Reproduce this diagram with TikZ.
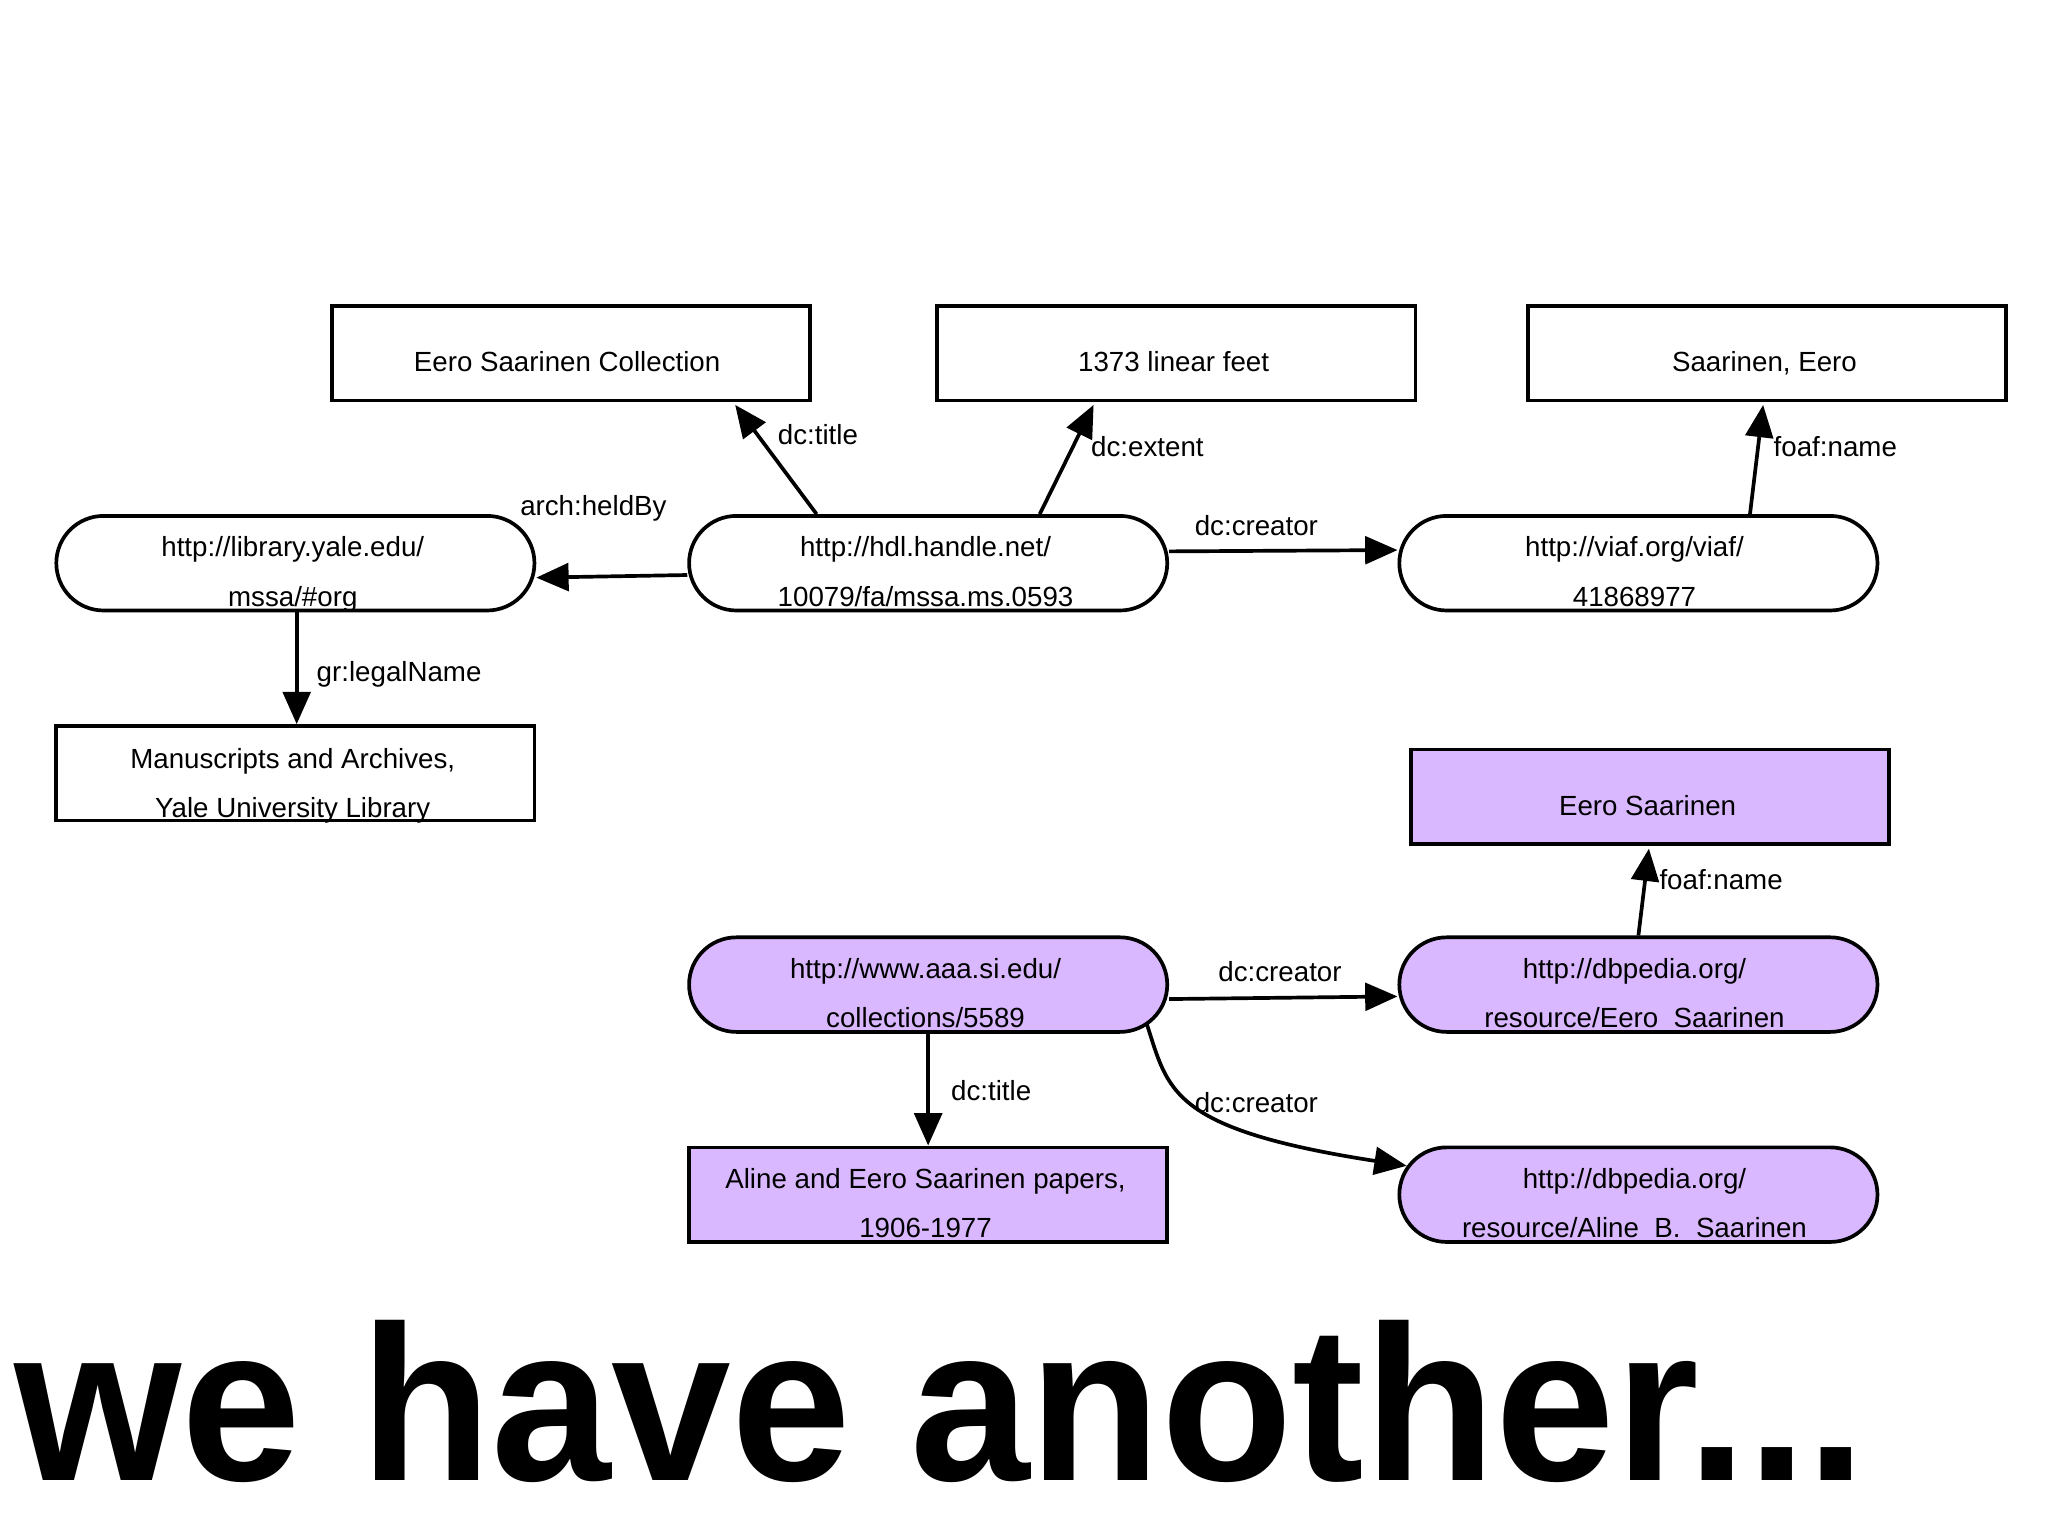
\documentclass[tikz,border=0pt]{standalone}
\usepackage{fontspec}
\setmainfont{Liberation Sans}
\usetikzlibrary{shapes.misc,arrows.meta,calc}
\definecolor{lav}{HTML}{D9B8FF}
\begin{document}
\begin{tikzpicture}[x=0.01cm,y=-0.01cm,
  box/.style={draw,line width=0.8pt,minimum width=3.64cm,minimum height=0.72cm,inner sep=0},
  pill/.style={draw,line width=0.8pt,rounded rectangle,minimum width=3.64cm,minimum height=0.72cm,inner sep=0},
  pur/.style={fill=lav},
  txt/.style={font=\fontsize{6pt}{7pt}\selectfont,inner sep=0,anchor=base},
  lab/.style={font=\fontsize{6pt}{7pt}\selectfont,inner sep=0},
  arr/.style={line width=0.8pt,-{Triangle[length=7pt,width=6pt]}}]
\useasboundingbox (0,0) rectangle (1560,1170);
\fill[white] (0,0) rectangle (1560,1170);
% shapes
\node[box] (coll) at (435,269) {};
\node[box] (ext) at (896,269) {};
\node[box] (sname) at (1346,269) {};
\node[pill] (lib) at (225,429) {};
\node[pill] (hdl) at (707,429) {};
\node[pill] (viaf) at (1248,429) {};
\node[box] (msa) at (225,589) {};
\node[box,pur] (ename) at (1257,607) {};
\node[pill,pur] (aaa) at (707,750) {};
\node[pill,pur] (dbe) at (1248,750) {};
\node[box,pur] (pap) at (707,910) {};
\node[pill,pur] (dba) at (1248,910) {};
% texts
\node[txt] (t1) at (432,283) {Eero Saarinen Collection};
\node[txt] (t2) at (894,283) {1373 linear feet};
\node[txt] (t3) at (1344,283) {Saarinen, Eero};
\node[txt] (t4a) at (223,424) {http://library.yale.edu/};
\node[txt] (t4b) at (223,462) {mssa/\#org};
\node[txt] (t5a) at (705,424) {http://hdl.handle.net/};
\node[txt] (t5b) at (705,462) {10079/fa/mssa.ms.0593};
\node[txt] (t6a) at (1245,424) {http://viaf.org/viaf/};
\node[txt] (t6b) at (1245,462) {41868977};
\node[txt] (t7a) at (223,585) {Manuscripts and Archives,};
\node[txt] (t7b) at (223,623) {Yale University Library};
\node[txt] (t8) at (1255,621) {Eero Saarinen};
\node[txt] (t9a) at (705,745) {http://www.aaa.si.edu/};
\node[txt] (t9b) at (705,783) {collections/5589};
\node[txt] (t10a) at (1245,745) {http://dbpedia.org/};
\node[txt] (t10b) at (1245,783) {resource/Eero\_Saarinen};
\node[txt] (t11a) at (705,905) {Aline and Eero Saarinen papers,};
\node[txt] (t11b) at (705,943) {1906-1977};
\node[txt] (t12a) at (1245,905) {http://dbpedia.org/};
\node[txt] (t12b) at (1245,943) {resource/Aline\_B.\_Saarinen};
% edges
\draw[arr] ($(hdl.north)+(-85,0)$) -- ($(coll.south)+(125,2)$);
\node[lab] at (623,331) {dc:title};
\draw[arr] ($(hdl.north)+(85,0)$) -- ($(ext.south)+(-63,2)$);
\node[lab] at (874,340) {dc:extent};
\draw[arr] ($(viaf.north)+(85,0)$) -- ($(sname.south)+(-3,2)$);
\node[lab] at (1398,340) {foaf:name};
\draw[arr] ($(hdl.west)+(0,9)$) -- ($(lib.east)+(0,11)$);
\node[lab] at (452,387) {arch:heldBy};
\draw[arr] ($(hdl.east)+(0,-9)$) -- ($(viaf.west)+(0,-10)$);
\node[lab] at (957,400) {dc:creator};
\draw[arr] ($(lib.south)+(1,0)$) -- ($(msa.north)+(1,0)$);
\node[lab] at (304,514) {gr:legalName};
\draw[arr] (dbe.north) -- ($(ename.south)+(-1,2)$);
\node[lab] at (1311,670) {foaf:name};
\draw[arr] ($(aaa.east)+(0,11)$) -- ($(dbe.west)+(0,9)$);
\node[lab] at (975,740) {dc:creator};
\draw[arr] (aaa.south) -- (pap.north);
\node[lab] at (755,831) {dc:title};
\draw[arr] ($(aaa.east)+(-17,30)$) .. controls (890,830) and (890,860) .. ($(dba.west)+(7,-22)$);
\node[lab] at (957,840) {dc:creator};
\node[inner sep=0,anchor=south west] (big) at (10,1130) {\resizebox{14.1cm}{1.22cm}{\bfseries we have another...}};
\end{tikzpicture}
\end{document}
